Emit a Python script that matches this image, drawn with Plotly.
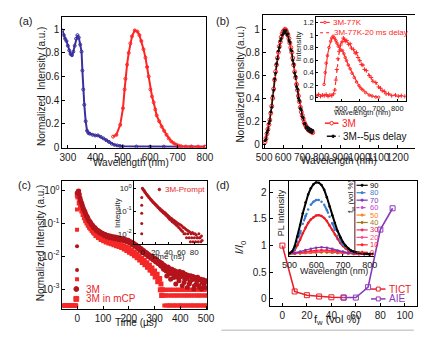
import plotly.graph_objects as go

W, H = 445, 346
def px(x): return x / W
def py(y): return 1 - y / H

FONT = "Liberation Sans, Arial, sans-serif"
INK = "#1a1a1a"
RED = "#ff2424"
BLUE = "#3a2f9c"
DRED = "#b3141c"
BRED = "#f52828"
TICT_C = "#e8202a"
AIE_C = "#8a3ab9"

# ---------------- (a) absorption / emission ----------------
abs_wl = [280, 285, 290, 295, 300, 305, 310, 315, 320, 325, 330, 335, 340, 345, 350, 353, 356, 360, 365, 370,
          375, 380, 390, 400, 410, 420, 430, 440, 450, 460, 470, 480, 490, 500, 550, 600, 650, 700, 750, 800]
abs_val = [0.99, 0.95, 0.92, 0.90, 0.86, 0.82, 0.79, 0.78, 0.81, 0.86, 0.92, 0.95, 0.93, 0.87, 0.81, 0.65, 0.49,
           0.36, 0.22, 0.14, 0.12, 0.115, 0.105, 0.10, 0.10, 0.088, 0.075, 0.06, 0.045, 0.03, 0.02, 0.015, 0.01,
           0.008, 0.006, 0.005, 0.005, 0.004, 0.004, 0.004]
em_wl = [465, 477, 491, 501, 507, 510, 516, 522, 528, 534, 544, 554, 561, 568, 576, 583, 589, 595, 601, 607,
         613, 619, 624, 633, 642, 651, 660, 668, 677, 686, 695, 704, 713, 730, 750, 775, 800]
em_val = [0.09, 0.105, 0.19, 0.33, 0.49, 0.58, 0.70, 0.80, 0.88, 0.94, 0.99, 0.98, 0.95, 0.90, 0.83, 0.76, 0.68,
          0.60, 0.49, 0.43, 0.38, 0.32, 0.27, 0.22, 0.175, 0.14, 0.105, 0.075, 0.05, 0.035, 0.022, 0.014, 0.008,
          0.006, 0.005, 0.005, 0.005]

# ---------------- (b) PL spectra ----------------
b_wl = [505, 510, 515, 520, 525, 530, 535, 540, 545, 550, 555, 560, 565, 570, 575, 580, 585, 590, 595, 600, 605,
        610, 615, 620, 625, 630, 635, 640, 645, 650, 655, 660, 665, 670, 675, 680, 685, 690, 695, 700, 705, 710,
        715, 720, 725, 730, 735, 740, 745, 750, 755]
b_3m = [0.02, 0.05, 0.09, 0.13, 0.17, 0.21, 0.27, 0.33, 0.40, 0.48, 0.56, 0.63, 0.69, 0.75, 0.80, 0.85, 0.89,
        0.93, 0.96, 0.98, 0.99, 1.0, 0.99, 0.97, 0.95, 0.92, 0.88, 0.84, 0.80, 0.75, 0.69, 0.63, 0.58, 0.52, 0.47,
        0.42, 0.37, 0.32, 0.28, 0.25, 0.22, 0.19, 0.17, 0.155, 0.14, 0.13, 0.12, 0.115, 0.11, 0.105, 0.10]
b_delay = [0.03, 0.04, 0.10, 0.12, 0.18, 0.20, 0.28, 0.32, 0.42, 0.47, 0.57, 0.62, 0.70, 0.74, 0.81, 0.84, 0.90,
           0.92, 0.95, 0.96, 0.99, 0.97, 0.99, 0.95, 0.96, 0.90, 0.89, 0.82, 0.81, 0.73, 0.70, 0.62, 0.59, 0.50,
           0.48, 0.40, 0.38, 0.31, 0.30, 0.24, 0.23, 0.18, 0.18, 0.14, 0.15, 0.12, 0.14, 0.11, 0.13, 0.10, 0.12]
# inset: 77 K spectra
k77_wl = [409, 415, 420, 427, 435, 444, 450, 457, 465, 472, 478, 485, 495, 507, 515, 522, 529, 538, 548, 558, 570,
          582, 595, 605, 616, 630, 650, 665, 685, 700]
k77_val = [0.21, 0.40, 0.55, 0.67, 0.80, 0.90, 0.95, 0.98, 0.95, 0.91, 0.87, 0.82, 0.77, 0.75, 0.70, 0.64, 0.59,
           0.52, 0.46, 0.39, 0.32, 0.25, 0.19, 0.15, 0.12, 0.08, 0.04, 0.025, 0.01, 0.005]
k77d_wl = [370, 380, 390, 400, 410, 420, 430, 440, 450, 460, 466, 472, 477, 483, 490, 497, 505, 512, 517, 522, 530,
           540, 548, 555, 565, 575, 582, 590, 600, 608, 616, 625, 635, 650, 660, 670, 685, 700, 710, 719, 730, 740,
           753, 770, 790, 805, 821, 840]
k77d_val = [0.03, 0.05, 0.02, 0.04, 0.03, 0.05, 0.02, 0.04, 0.03, 0.06, 0.12, 0.28, 0.45, 0.62, 0.74, 0.84, 0.89,
            0.95, 0.93, 0.90, 0.91, 0.85, 0.86, 0.79, 0.77, 0.71, 0.72, 0.64, 0.59, 0.53, 0.52, 0.45, 0.43, 0.35,
            0.32, 0.26, 0.24, 0.17, 0.15, 0.11, 0.10, 0.06, 0.06, 0.03, 0.04, 0.02, 0.03, 0.02]

# ---------------- (c) decays (log10 of normalized intensity) ----------------
c_t = [0, 5, 10, 15, 20, 25, 30, 35, 40, 45, 50, 55, 60, 65, 70, 75, 80, 85, 90, 95, 100, 105, 110, 115, 120, 125,
       130, 135, 140, 145, 150, 155, 160, 165, 170, 175, 180, 185, 190, 195, 200, 205, 210, 215, 220, 225, 230, 235,
       240, 245, 250, 255, 260, 265, 270, 275, 280, 285, 290, 295, 300, 305, 310, 315, 320, 325, 330, 335, 340,
       345, 350, 355, 360, 365, 370, 375, 380, 385, 390, 395, 400, 405, 410, 415, 420, 425, 430, 435, 440, 445,
       450, 455, 460, 465, 470, 475, 480, 485, 490, 495, 500]
c_3m_log = [-0.08, -0.02, -0.22, -0.36, -0.47, -0.58, -0.66, -0.77, -0.83, -0.92, -0.96, -1.04, -1.07, -1.14, -1.15,
            -1.22, -1.22, -1.28, -1.27, -1.33, -1.32, -1.37, -1.35, -1.41, -1.38, -1.43, -1.40, -1.45, -1.42, -1.47,
            -1.43, -1.48, -1.45, -1.50, -1.47, -1.52, -1.48, -1.54, -1.51, -1.57, -1.54, -1.61, -1.58, -1.66, -1.63,
            -1.71, -1.68, -1.77, -1.74, -1.83, -1.80, -1.89, -1.86, -1.95, -1.91, -2.01, -1.97, -2.06, -2.03, -2.12,
            -2.08, -2.18, -2.13, -2.23, -2.18, -2.30, -2.24, -2.40, -2.30, -2.45, -2.35, -2.55, -2.38, -2.50, -2.42,
            -2.65, -2.45, -2.58, -2.48, -2.75, -2.52, -2.62, -2.50, -2.80, -2.55, -2.68, -2.58, -2.85, -2.60, -2.72,
            -2.62, -2.90, -2.65, -2.75, -2.68, -2.95, -2.70, -2.80, -2.72, -2.95, -2.75]
# extra 3M points between the main grid (t = 2.5, 7.5, ...)
c_3m_mid_log = [-0.05, -0.12, -0.30, -0.40, -0.53, -0.62, -0.72, -0.79, -0.88, -0.94, -1.00, -1.05, -1.11, -1.13,
                -1.19, -1.21, -1.25, -1.26, -1.31, -1.30, -1.35, -1.34, -1.39, -1.37, -1.41, -1.39, -1.44, -1.41,
                -1.45, -1.42, -1.47, -1.44, -1.49, -1.46, -1.50, -1.47, -1.52, -1.50, -1.55, -1.52, -1.58, -1.56,
                -1.62, -1.60, -1.67, -1.65, -1.72, -1.71, -1.78, -1.77, -1.84, -1.83, -1.90, -1.89, -1.96, -1.95,
                -2.02, -2.00, -2.08, -2.05, -2.14, -2.10, -2.20, -2.16, -2.27, -2.21, -2.35, -2.28, -2.42, -2.60,
                -2.33, -2.48, -2.70, -2.40, -2.56, -2.44, -2.85, -2.50, -2.66, -2.47, -2.60, -2.90, -2.53, -2.70,
                -2.57, -2.95, -2.62, -2.78, -2.60, -2.66, -3.00, -2.70, -2.85, -2.64, -2.90, -2.72, -3.00, -2.75,
                -2.88, -2.78]
c_mcp_log = [-0.15, -0.05, -0.30, -0.45, -0.58, -0.68, -0.78, -0.88, -0.95, -1.03, -1.08, -1.15, -1.19, -1.25,
             -1.28, -1.33, -1.35, -1.40, -1.41, -1.46, -1.46, -1.51, -1.50, -1.55, -1.53, -1.58, -1.56, -1.61, -1.58,
             -1.63, -1.60, -1.66, -1.63, -1.69, -1.66, -1.72, -1.69, -1.76, -1.73, -1.80, -1.77, -1.85, -1.82, -1.90,
             -1.87, -1.96, -1.93, -2.02, -1.99, -2.08, -2.06, -2.15, -2.13, -2.22, -2.20, -2.30, -2.28, -2.38, -2.36,
             -2.47, -2.45, -2.57, -2.55, -2.70, -2.68, -2.85, -3.02]
c_mcp_mid_log = [-0.20, -0.38, -0.52, -0.63, -0.73, -0.83, -0.92, -0.99, -1.06, -1.12, -1.17, -1.22, -1.27, -1.30,
                 -1.37, -1.38, -1.43, -1.44, -1.49, -1.48, -1.53, -1.52, -1.57, -1.55, -1.60, -1.57, -1.62, -1.60,
                 -1.65, -1.62, -1.68, -1.65, -1.71, -1.68, -1.74, -1.72, -1.78, -1.76, -1.83, -1.80, -1.88, -1.86,
                 -1.93, -1.92, -1.99, -1.98, -2.05, -2.04, -2.12, -2.10, -2.19, -2.17, -2.26, -2.25, -2.34, -2.33,
                 -2.42, -2.42, -2.52, -2.51, -2.63, -2.62, -2.78, -2.76, -3.02, -3.20]
c_rise_3m_log = [-2.42, -1.7]
c_rise_mcp_log = [-2.7, -1.2, -0.58]
MAX_COUNTS = 3162
c_pre_t = [-56, -54, -52, -50, -48, -46, -44, -42, -40, -38, -36, -34, -32, -30, -28, -26, -24, -22, -20, -18, -16,
           -14, -12, -10, -8, -6, -4]
c_pre_counts = [1, 1, 1, 1, 1, 1, 1, 1, 1, 1, 1, 1, 1, 1, 1, 1, 1, 1, 1, 1, 1, 1, 1, 1, 1, 1, 1]
c_tail_counts = [3, 2, 3, 1, 2, 3, 2, 1, 2, 3, 1, 3, 2, 1, 1, 3, 2, 2, 3, 1, 3, 1, 2, 2, 1, 3, 1, 2, 3, 3, 2, 1, 2,
                 1, 3, 1, 3, 2, 2, 1, 3, 3, 1, 2, 1, 2, 3, 2, 3, 1, 1, 2, 3, 3, 2, 1, 2, 1, 3, 1, 3, 2, 2, 3, 1, 3,
                 1, 2, 1, 2, 3, 2, 3, 1, 1, 2, 3, 2, 1, 3, 3, 1, 2, 1, 2, 3, 1, 2]
# inset: prompt decay (ns)
p_t = list(range(0, 93))
p_log = [0.0, -0.03, -0.08, -0.10, -0.17, -0.19, -0.25, -0.27, -0.33, -0.34, -0.40, -0.41, -0.47, -0.48, -0.54,
         -0.55, -0.60, -0.61, -0.66, -0.67, -0.72, -0.72, -0.78, -0.78, -0.84, -0.84, -0.90, -0.89, -0.96, -0.94,
         -1.02, -0.99, -1.07, -1.04, -1.12, -1.08, -1.17, -1.13, -1.23, -1.18, -1.30, -1.24, -1.36, -1.29, -1.41,
         -1.33, -1.47, -1.38, -1.51, -1.42, -1.56, -1.46, -1.61, -1.50, -1.66, -1.55, -1.72, -1.58, -1.78, -1.62,
         -1.85, -1.66, -1.90, -1.72, -2.00, -1.75, -2.00, -1.80, -2.18, -1.85, -2.00, -1.88, -2.18, -1.92, -2.35,
         -2.00, -2.18, -1.95, -2.35, -2.00, -2.18, -2.00, -2.35, -2.05, -2.18, -2.18, -2.35, -2.00, -2.18, -2.18,
         -2.35, -2.10, -2.30]
p_rise_log = [-2.0, -1.55, -1.1, -0.75, -0.4]

# ---------------- (d) I/I0 vs fw ----------------
tict_fw = [0, 10, 20, 30, 40, 50]
tict_val = [1.0, 0.14, 0.07, 0.045, 0.03, 0.025]
aie_fw = [50, 60, 70, 80, 90]
aie_val = [0.025, 0.025, 0.22, 1.3, 1.7]
# inset PL spectra (relative to fw = 0 peak)
d_wl = [500, 510, 520, 530, 540, 550, 560, 570, 580, 590, 600, 610, 620, 630, 640, 650, 660, 670, 680, 690, 700,
        710, 720, 730, 740, 750, 760, 770, 780, 790, 800, 810]
d_90 = [0.04, 0.08, 0.22, 0.46, 0.75, 1.05, 1.32, 1.52, 1.68, 1.78, 1.83, 1.82, 1.76, 1.64, 1.45, 1.22, 1.0, 0.80,
        0.60, 0.44, 0.32, 0.23, 0.16, 0.11, 0.08, 0.06, 0.05, 0.04, 0.03, 0.03, 0.02, 0.02]
d_80 = [0.04, 0.07, 0.16, 0.33, 0.55, 0.78, 0.98, 1.14, 1.26, 1.34, 1.38, 1.38, 1.34, 1.26, 1.13, 0.96, 0.79, 0.63,
        0.48, 0.36, 0.26, 0.19, 0.13, 0.09, 0.07, 0.05, 0.04, 0.03, 0.03, 0.02, 0.02, 0.02]
d_0 = [0.04, 0.06, 0.12, 0.24, 0.38, 0.54, 0.68, 0.80, 0.89, 0.95, 0.99, 1.0, 0.98, 0.93, 0.85, 0.74, 0.63, 0.51,
       0.40, 0.30, 0.22, 0.16, 0.11, 0.08, 0.06, 0.04, 0.03, 0.03, 0.02, 0.02, 0.02, 0.02]
d_wl2 = [500, 520, 540, 560, 580, 600, 620, 640, 660, 680, 700, 720, 740, 760, 780, 800]
d_70 = [0.03, 0.05, 0.08, 0.12, 0.15, 0.18, 0.19, 0.18, 0.15, 0.11, 0.08, 0.05, 0.04, 0.03, 0.02, 0.02]
d_60 = [0.02, 0.03, 0.04, 0.05, 0.06, 0.06, 0.07, 0.06, 0.06, 0.05, 0.04, 0.03, 0.02, 0.02, 0.02, 0.01]
d_50 = [0.02, 0.03, 0.03, 0.04, 0.05, 0.05, 0.06, 0.06, 0.05, 0.04, 0.04, 0.03, 0.02, 0.02, 0.01, 0.01]
d_40 = [0.02, 0.03, 0.04, 0.05, 0.06, 0.07, 0.07, 0.07, 0.06, 0.05, 0.04, 0.03, 0.02, 0.02, 0.02, 0.01]
d_30 = [0.03, 0.03, 0.05, 0.06, 0.07, 0.08, 0.09, 0.09, 0.08, 0.06, 0.05, 0.04, 0.03, 0.02, 0.02, 0.01]
d_20 = [0.03, 0.04, 0.05, 0.07, 0.08, 0.09, 0.10, 0.10, 0.09, 0.07, 0.05, 0.04, 0.03, 0.02, 0.02, 0.01]
d_10 = [0.03, 0.04, 0.06, 0.08, 0.10, 0.11, 0.12, 0.12, 0.11, 0.09, 0.07, 0.05, 0.03, 0.02, 0.02, 0.01]
fw_labels = ["90", "80", "70", "60", "50", "40", "30", "20", "10", "0"]
fw_colors = ["#000000", "#3a7dd0", "#7a35b8", "#d040d0", "#ff8020", "#a07818", "#e8305a", "#ff4d8a", "#ff2020", "#ee1c25"]
fw_dash = ["solid", "dash", "solid", "dot", "dashdot", "solid", "solid", "solid", "solid", "solid"]

fig = go.Figure()

# (a)
fig.add_trace(go.Scatter(x=abs_wl, y=abs_val, mode="lines+markers", line=dict(color=BLUE, width=2),
                         marker=dict(symbol="circle-open", size=3, color=BLUE), xaxis="x", yaxis="y"))
fig.add_trace(go.Scatter(x=em_wl, y=em_val, mode="lines+markers", line=dict(color=RED, width=2),
                         marker=dict(symbol="circle-open", size=3, color=RED), xaxis="x", yaxis="y"))
# (b) main
fig.add_trace(go.Scatter(x=b_wl, y=b_3m, mode="lines+markers", line=dict(color=RED, width=1.5),
                         marker=dict(symbol="circle-open", size=4, color=RED), xaxis="x2", yaxis="y2"))
fig.add_trace(go.Scatter(x=b_wl, y=b_delay, mode="lines+markers", line=dict(color="#111111", width=1.5, dash="dashdot"),
                         marker=dict(symbol="circle", size=3, color="#111111"), xaxis="x2", yaxis="y2"))
# (b) inset
fig.add_trace(go.Scatter(x=k77_wl, y=k77_val, mode="lines+markers", line=dict(color=RED, width=1.1),
                         marker=dict(symbol="circle-open", size=2.5, color=RED), xaxis="x3", yaxis="y3"))
fig.add_trace(go.Scatter(x=k77d_wl, y=k77d_val, mode="lines+markers", line=dict(color=RED, width=1.1, dash="dot"),
                         marker=dict(symbol="cross-thin-open", size=3, color=RED, line=dict(color=RED, width=1)),
                         xaxis="x3", yaxis="y3"))
# (c) main
sq = dict(symbol="square", size=4, color=BRED)
fig.add_trace(go.Scatter(x=c_pre_t, y=[c / MAX_COUNTS for c in c_pre_counts], mode="markers",
                         marker=sq, xaxis="x4", yaxis="y4"))
fig.add_trace(go.Scatter(x=[332 + 2 * i for i in range(len(c_tail_counts))],
                         y=[c / MAX_COUNTS for c in c_tail_counts], mode="markers",
                         marker=sq, xaxis="x4", yaxis="y4"))
fig.add_trace(go.Scatter(x=c_t[:len(c_mcp_log)], y=[10 ** v for v in c_mcp_log], mode="markers",
                         marker=dict(symbol="square", size=5, color=BRED), xaxis="x4", yaxis="y4"))
fig.add_trace(go.Scatter(x=[t + 2.5 for t in c_t[:len(c_mcp_mid_log)]], y=[10 ** v for v in c_mcp_mid_log],
                         mode="markers", marker=dict(symbol="square", size=5, color=BRED), xaxis="x4", yaxis="y4"))
fig.add_trace(go.Scatter(x=[-1] * len(c_rise_mcp_log), y=[10 ** v for v in c_rise_mcp_log], mode="markers",
                         marker=sq, xaxis="x4", yaxis="y4"))
fig.add_trace(go.Scatter(x=c_t, y=[10 ** v for v in c_3m_log], mode="markers",
                         marker=dict(symbol="circle", size=5, color=DRED), xaxis="x4", yaxis="y4"))
fig.add_trace(go.Scatter(x=[t + 2.5 for t in c_t[:len(c_3m_mid_log)]], y=[10 ** v for v in c_3m_mid_log],
                         mode="markers", marker=dict(symbol="circle", size=5, color=DRED), xaxis="x4", yaxis="y4"))
fig.add_trace(go.Scatter(x=[-1] * len(c_rise_3m_log), y=[10 ** v for v in c_rise_3m_log], mode="markers",
                         marker=dict(symbol="circle", size=4, color=DRED), xaxis="x4", yaxis="y4"))
# (c) inset
fig.add_trace(go.Scatter(x=p_t, y=[10 ** v for v in p_log], mode="markers",
                         marker=dict(symbol="circle", size=3, color=DRED), xaxis="x5", yaxis="y5"))
fig.add_trace(go.Scatter(x=[-1] * len(p_rise_log), y=[10 ** v for v in p_rise_log], mode="markers",
                         marker=dict(symbol="circle", size=3, color=DRED), xaxis="x5", yaxis="y5"))
# (d) inset spectra
inset_series = [(d_wl2, d_60, 3), (d_wl2, d_50, 4), (d_wl2, d_40, 5), (d_wl2, d_30, 6), (d_wl2, d_20, 7),
                (d_wl2, d_10, 8), (d_wl2, d_70, 2), (d_wl, d_0, 9), (d_wl, d_80, 1), (d_wl, d_90, 0)]
for xs, ys, k in inset_series:
    wdt = 2 if k in (0, 1, 9) else 1.2
    fig.add_trace(go.Scatter(x=xs, y=ys, mode="lines+markers",
                             line=dict(color=fw_colors[k], width=wdt, dash=fw_dash[k]),
                             marker=dict(size=2.5, color=fw_colors[k]), xaxis="x7", yaxis="y7"))
# (d) main
fig.add_trace(go.Scatter(x=tict_fw, y=tict_val, mode="lines+markers", line=dict(color=TICT_C, width=1.6),
                         marker=dict(symbol="square-open", size=5, color=TICT_C), xaxis="x6", yaxis="y6"))
fig.add_trace(go.Scatter(x=aie_fw, y=aie_val, mode="lines+markers", line=dict(color=AIE_C, width=1.6),
                         marker=dict(symbol="square-open", size=5, color=AIE_C), xaxis="x6", yaxis="y6"))


def axis(x0, x1, rng, size=10, **kw):
    d = dict(domain=[x0, x1], range=rng, showline=True, linecolor="black", linewidth=1, mirror=True,
             ticks="inside", ticklen=3, tickcolor="black", showgrid=False, zeroline=False, tickangle=0,
             tickfont=dict(size=size, family=FONT, color=INK))
    d.update(kw)
    return d

lay = dict(width=W, height=H, autosize=False, margin=dict(l=0, r=0, t=0, b=0), showlegend=False,
           paper_bgcolor="white", plot_bgcolor="rgba(0,0,0,0)", font=dict(family=FONT, color=INK))
# (a)
lay["xaxis"] = axis(px(57.3), px(205.7), [280, 803], anchor="y", tickvals=[300, 400, 500, 600, 700, 800])
lay["yaxis"] = axis(py(150), py(17.7), [-0.005, 1.1], anchor="x", tickvals=[0, 0.2, 0.4, 0.6, 0.8, 1],
                    ticktext=["0", "0.2", "0.4", "0.6", "0.8", "1"])
# (b)
lay["xaxis2"] = axis(px(264.7), px(422), [493, 1290], anchor="y2",
                     tickvals=[500, 600, 700, 800, 900, 1000, 1100, 1200])
lay["yaxis2"] = axis(py(149.7), py(15.7), [-0.03, 1.12], anchor="x2", mirror=False,
                     tickvals=[0, 0.2, 0.4, 0.6, 0.8, 1], ticktext=["0", "0.2", "0.4", "0.6", "0.8", "1"])
lay["xaxis3"] = axis(px(320), px(412.7), [367, 845], size=7.5, anchor="y3", tickvals=[500, 600, 700, 800], ticklen=2)
lay["yaxis3"] = axis(py(102.3), py(17.3), [-0.052, 1.287], size=7.5, anchor="x3", ticklen=2,
                     tickvals=[0, 0.2, 0.4, 0.6, 0.8, 1, 1.2], ticktext=["0", "0.2", "0.4", "0.6", "0.8", "1", "1.2"])
# (c)
lay["xaxis4"] = axis(px(57.3), px(207.3), [-58, 505], anchor="y4", tickvals=[0, 100, 200, 300, 400, 500])
lay["yaxis4"] = axis(py(313.3), py(183.5), [-3.6, 0.29], anchor="x4", type="log",
                     tickvals=[1e-3, 1e-2, 1e-1, 1], ticktext=["10<sup>-3</sup>", "10<sup>-2</sup>", "10<sup>-1</sup>", "10<sup>0</sup>"])
lay["xaxis5"] = axis(px(131.7), px(207.3), [-12.5, 100], size=8, anchor="y5", tickvals=[0, 20, 40, 60, 80], ticklen=2)
lay["yaxis5"] = axis(py(248), py(183.5), [-2.47, 0.33], size=8, anchor="x5", type="log", ticklen=2,
                     tickvals=[1e-2, 1e-1, 1], ticktext=["10<sup>-2</sup>", "10<sup>-1</sup>", "10<sup>0</sup>"])
# (d)
lay["xaxis6"] = axis(px(271.7), px(424.4), [-10.5, 110], anchor="y6", tickvals=[0, 20, 40, 60, 80, 100])
lay["yaxis6"] = axis(py(310), py(184), [-0.124, 2.205], anchor="x6", tickvals=[0, 0.5, 1, 1.5, 2],
                     ticktext=["0", "0.5", "1", "1.5", "2"])
lay["xaxis7"] = axis(px(291.7), px(380.3), [498, 818], size=9, anchor="y7", mirror=False,
                     tickvals=[500, 600, 700, 800], ticklen=2)
lay["yaxis7"] = axis(py(260), py(184), [-0.037, 1.853], anchor="x7", mirror=False, ticks="",
                     showticklabels=False)
fig.update_layout(**lay)

ann = []
def text(t, x, y, size=10, color=INK, angle=0, xa="center", ya="middle"):
    ann.append(dict(text=t, x=px(x), y=py(y), xref="paper", yref="paper", showarrow=False, textangle=angle,
                    xanchor=xa, yanchor=ya, font=dict(size=size, family=FONT, color=color)))

# panel labels
text("(a)", 19, 21.5, 11)
text("(b)", 223, 21.5, 11)
text("(c)", 18, 188, 11)
text("(d)", 223, 188, 11)
# axis titles
text("Normalized  Intensity (a.u.)", 35, 87.5, 10, angle=-90)
text("Wavelength (nm)", 128, 165, 10)
text("Normalized Intensity (a.u.)", 242, 85, 10, angle=-90)
text("Wavelength (nm)", 344, 163.3, 10)
text("Intensity", 301, 47, 8, angle=-90)
text("Wavelength (nm)", 368, 114, 7.5)
text("Normalized Intensity (a.u.)", 35, 246, 10, angle=-90)
text("Time (µs)", 133, 327.5, 10)
text("Intensity", 115, 216, 8, angle=-90)
text("Time (ns)", 167, 260, 8)
text("<i>I/I</i><sub>0</sub>", 242, 251, 11, angle=-90)
text("f<sub>w</sub> (vol %)", 342, 325, 11)
text("PL Intensity", 283, 216, 9, angle=-90)
text("Wavelength (nm)", 338, 275, 9)
text("f<sub>w</sub> (vol %)", 356, 199, 8, angle=-90)

shapes = []
def hline(x0, x1, y, color, width=1.2, dash="solid"):
    shapes.append(dict(type="line", xref="paper", yref="paper", x0=px(x0), x1=px(x1), y0=py(y), y1=py(y),
                       line=dict(color=color, width=width, dash=dash)))
def dot(x, y, r, color, fill=True, kind="circle"):
    shapes.append(dict(type=kind, xref="paper", yref="paper", x0=px(x - r), x1=px(x + r), y0=py(y + r), y1=py(y - r),
                       line=dict(color=color, width=1), fillcolor=color if fill else "white"))

# (b) legends
hline(329, 343, 125, RED, 1.5); dot(336, 125, 1.8, RED, False)
text("3M", 345, 125, 10, RED, xa="left")
hline(331, 344, 138.3, "#111111", 1.5, "dashdot"); dot(337.5, 138.3, 1.3, "#111111")
text("3M--5µs delay", 346, 138.3, 10, "#111111", xa="left")
hline(324, 334, 22.7, RED, 1.1); dot(329, 22.7, 1.2, RED, False)
text("3M-77K", 335, 22.7, 8, RED, xa="left")
hline(324, 334, 33.3, RED, 1.1, "dot")
text("3M-77K-20 ms delay", 336, 33.3, 8, RED, xa="left")
# (c) legends
dot(71.7, 293.3, 2.5, DRED)
text("3M", 80, 293.3, 10, "#e8262b", xa="left")
dot(71.7, 303.3, 2.5, BRED, kind="rect")
text("3M in mCP", 80, 303.3, 10, "#e8262b", xa="left")
dot(157.7, 192.3, 1.3, DRED)
text("3M-Prompt", 161, 192.3, 8, "#e8262b", xa="left")
# (d) legends
hline(376.7, 391.7, 293.3, TICT_C, 1.5); dot(384.2, 293.3, 2, TICT_C, False, "rect")
text("TICT", 393, 293.3, 10, TICT_C, xa="left")
hline(376.7, 391.7, 303.3, AIE_C, 1.5); dot(384.2, 303.3, 2, AIE_C, False, "rect")
text("AIE", 393, 303.3, 10, AIE_C, xa="left")
shapes.append(dict(type="line", xref="paper", yref="paper", x0=px(360), x1=px(360), y0=py(184), y1=py(258),
                   line=dict(color="#5a1010", width=1)))
for i, (lab, col, ds) in enumerate(zip(fw_labels, fw_colors, fw_dash)):
    yy = 188 + i * 7.55
    hline(361.7, 373.3, yy, col, 1.2, ds)
    dot(367.5, yy, 1.1, col)
    text(lab, 374, yy, 7.5, col, xa="left")
# grey separator
shapes.append(dict(type="line", xref="paper", yref="paper", x0=px(222), x1=px(421), y0=py(335), y1=py(335),
                   line=dict(color="#cccccc", width=1.5)))

fig.update_layout(annotations=ann, shapes=shapes)
fig.write_html("out.html", config={"displayModeBar": False})
